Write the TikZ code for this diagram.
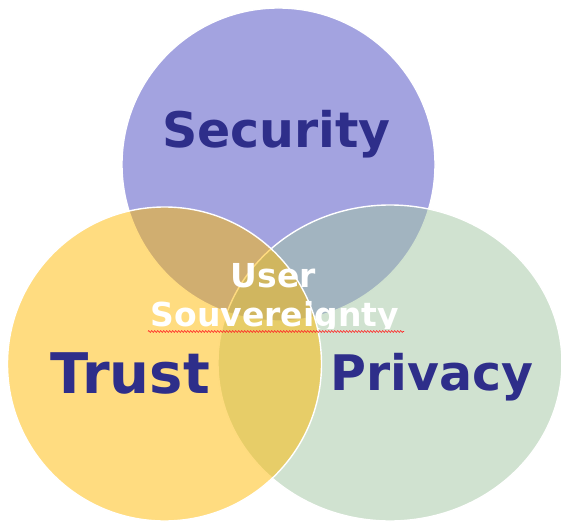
\documentclass[tikz,border=0pt]{standalone}
\usepackage{fontspec}
\setmainfont{DejaVu Sans}
\usetikzlibrary{decorations.pathmorphing}
\definecolor{secC}{RGB}{71,71,193}
\definecolor{truC}{RGB}{255,185,1}
\definecolor{priC}{RGB}{161,197,161}
\definecolor{navy}{RGB}{46,46,138}
\tikzset{
  setfill/.style={fill=#1, fill opacity=0.5, draw=white, draw opacity=1, line width=1.4pt},
  bigword/.style={text=navy, font=\bfseries\fontsize{#1}{#1}\selectfont, anchor=base, inner sep=0pt},
  coreword/.style={text=white, font=\bfseries\fontsize{33}{33}\selectfont, anchor=base, inner sep=0pt}
}
\begin{document}
\begin{tikzpicture}[x=1pt,y=-1pt]
\useasboundingbox (0,0) rectangle (561,521);
\path[setfill=secC] (278.5,164.5) circle [radius=156.5];
\path[setfill=priC] (390,363) ellipse [x radius=172, y radius=158];
\path[setfill=truC] (164.5,364) circle [radius=157];
\node[bigword=49] (security) at (276.5,148) {Security};
\node[bigword=56] (trust) at (130,393) {Trust};
\node[bigword=49] (privacy) at (432,390) {Privacy};
\begin{scope}
\clip (0,0) rectangle (561,328);
\node[coreword] (user) at (273.5,287) {User};
\node[coreword] (souv) at (275,326) {Souvereignty};
\end{scope}
\coordinate (sqA) at (148,331.5);
\coordinate (sqB) at (404,331.5);
\draw[red!85!white, line width=0.6pt, decorate, decoration={zigzag, amplitude=0.9pt, segment length=3pt}] (sqA) -- (sqB);
\end{tikzpicture}
\end{document}
